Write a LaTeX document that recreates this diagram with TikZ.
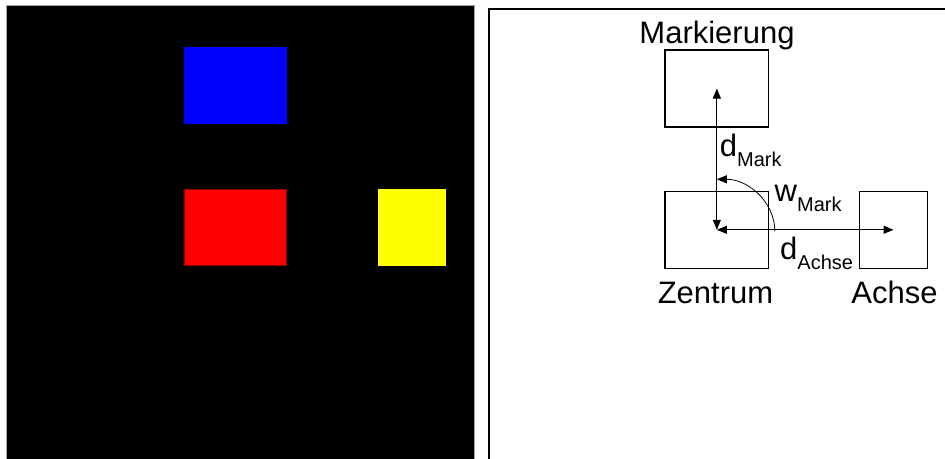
\documentclass[tikz,border=0pt]{standalone}
\usepackage{fontspec}
\setmainfont{Liberation Sans}
\usetikzlibrary{arrows.meta}
\newcommand{\subf}[1]{\raisebox{-10pt}{\fontsize{20}{20}\selectfont #1}}
\tikzset{
  box/.style={draw=black, line width=1.5pt, minimum width=103.7pt, minimum height=77pt, inner sep=0pt},
  smallbox/.style={box, minimum width=67.6pt},
  arr/.style={line width=1pt, {Triangle[length=10pt,width=8pt]}-{Triangle[length=10pt,width=8pt]}},
  arcarr/.style={line width=0.8pt, -{Triangle[length=10pt,width=8pt]}},
  lbl/.style={font=\fontsize{31}{31}\selectfont, inner sep=0pt, anchor=base},
  sym/.style={font=\fontsize{31}{31}\selectfont, inner sep=0pt, anchor=base west}
}
\begin{document}
\begin{tikzpicture}[x=1pt,y=-1pt]
\useasboundingbox (0,0) rectangle (945,458);
% left panel
\fill[black] (6.7,5) rectangle (474.7,460);
\draw[gray!70, line width=0.6pt] (6.7,460) -- (6.7,5) -- (474.7,5) -- (474.7,460);
\node[fill={rgb,255:red,0;green,0;blue,255}, inner sep=0pt, minimum width=103pt, minimum height=76.7pt] (blue) at (235.5,85.3) {};
\node[fill={rgb,255:red,255;green,0;blue,0}, draw={rgb,255:red,140;green,0;blue,0}, line width=0.6pt, inner sep=0pt, minimum width=102pt, minimum height=76pt] (red) at (235.3,227.3) {};
\node[fill={rgb,255:red,255;green,255;blue,0}, inner sep=0pt, minimum width=68.3pt, minimum height=77.3pt] (yellow) at (411.8,227.3) {};
% right panel
\draw[black, line width=1.6pt] (488.8,462) -- (488.8,8.8) -- (947,8.8);
\node[box] (mc) at (716.85,88.5) {};
\node[box] (zc) at (716.85,229.8) {};
\node[smallbox] (ac) at (893.5,229.8) {};
\node[lbl] (mlab) at (717,43.3) {Markierung};
\node[lbl] (zlab) at (715.5,303.3) {Zentrum};
\node[lbl] (alab) at (894.5,303.3) {Achse};
\draw[arr] (zc.center) -- (mc.center);
\draw[arr] (zc.center) -- (ac.center);
\coordinate (arcstart) at ([xshift=58pt,yshift=-1.5pt]zc.center);
\draw[arcarr] (arcstart) arc[start angle=0, end angle=-90, x radius=58, y radius=52];
\node[sym] (dmark) at (719.7,156.7) {d\subf{Mark}};
\node[sym] (wmark) at (774.5,201.7) {w\subf{Mark}};
\node[sym] (dachse) at (780,259) {d\subf{Achse}};
\end{tikzpicture}
\end{document}
